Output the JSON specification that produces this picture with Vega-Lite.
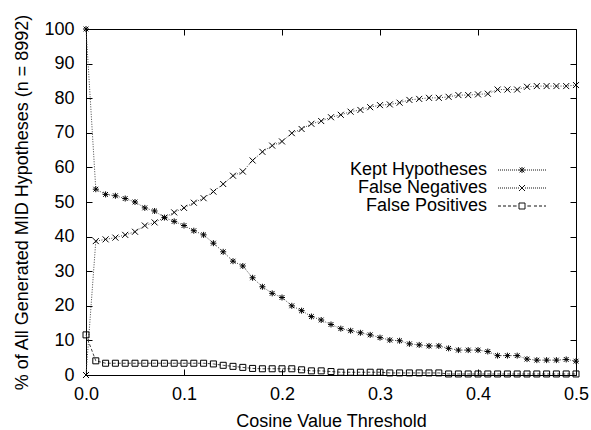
{
  "$schema": "https://vega.github.io/schema/vega-lite/v6.json",
  "width": 490,
  "height": 346,
  "autosize": {"type": "none"},
  "padding": {"left": 86, "top": 29, "right": 15, "bottom": 55},
  "background": "white",
  "config": {
    "view": {"stroke": "black", "strokeWidth": 1},
    "font": "Liberation Sans",
    "axis": {
      "grid": false,
      "domain": false,
      "labelFlush": false,
      "tickColor": "black",
      "tickSize": 6,
      "tickWidth": 1,
      "labelFont": "Liberation Sans",
      "labelFontSize": 18,
      "labelColor": "black",
      "titleFont": "Liberation Sans",
      "titleFontSize": 18,
      "titleFontWeight": "normal",
      "titleColor": "black"
    },
    "legend": {
      "labelFont": "Liberation Sans",
      "labelFontSize": 18,
      "labelColor": "black"
    }
  },
  "data": {
    "values": [
      {"t": 0.00, "Kept Hypotheses": 100, "False Negatives": 0, "False Positives": 11.6},
      {"t": 0.01, "Kept Hypotheses": 53.7, "False Negatives": 38.7, "False Positives": 4.1},
      {"t": 0.02, "Kept Hypotheses": 52.2, "False Negatives": 39.2, "False Positives": 3.4},
      {"t": 0.03, "Kept Hypotheses": 51.8, "False Negatives": 39.7, "False Positives": 3.4},
      {"t": 0.04, "Kept Hypotheses": 51.0, "False Negatives": 40.5, "False Positives": 3.4},
      {"t": 0.05, "Kept Hypotheses": 50.0, "False Negatives": 41.4, "False Positives": 3.4},
      {"t": 0.06, "Kept Hypotheses": 48.3, "False Negatives": 43.2, "False Positives": 3.4},
      {"t": 0.07, "Kept Hypotheses": 47.4, "False Negatives": 44.1, "False Positives": 3.4},
      {"t": 0.08, "Kept Hypotheses": 45.5, "False Negatives": 45.5, "False Positives": 3.4},
      {"t": 0.09, "Kept Hypotheses": 44.4, "False Negatives": 47.0, "False Positives": 3.4},
      {"t": 0.10, "Kept Hypotheses": 43.2, "False Negatives": 48.3, "False Positives": 3.4},
      {"t": 0.11, "Kept Hypotheses": 41.7, "False Negatives": 49.8, "False Positives": 3.4},
      {"t": 0.12, "Kept Hypotheses": 40.5, "False Negatives": 51.1, "False Positives": 3.4},
      {"t": 0.13, "Kept Hypotheses": 38.1, "False Negatives": 53.0, "False Positives": 3.2},
      {"t": 0.14, "Kept Hypotheses": 35.6, "False Negatives": 55.2, "False Positives": 2.8},
      {"t": 0.15, "Kept Hypotheses": 32.9, "False Negatives": 57.6, "False Positives": 2.5},
      {"t": 0.16, "Kept Hypotheses": 31.5, "False Negatives": 58.8, "False Positives": 2.2},
      {"t": 0.17, "Kept Hypotheses": 28.1, "False Negatives": 62.0, "False Positives": 1.9},
      {"t": 0.18, "Kept Hypotheses": 25.5, "False Negatives": 64.5, "False Positives": 1.8},
      {"t": 0.19, "Kept Hypotheses": 23.6, "False Negatives": 66.3, "False Positives": 1.8},
      {"t": 0.20, "Kept Hypotheses": 22.4, "False Negatives": 67.5, "False Positives": 1.8},
      {"t": 0.21, "Kept Hypotheses": 20.0, "False Negatives": 69.9, "False Positives": 1.8},
      {"t": 0.22, "Kept Hypotheses": 18.6, "False Negatives": 71.1, "False Positives": 1.5},
      {"t": 0.23, "Kept Hypotheses": 16.9, "False Negatives": 72.6, "False Positives": 1.2},
      {"t": 0.24, "Kept Hypotheses": 15.9, "False Negatives": 73.4, "False Positives": 1.2},
      {"t": 0.25, "Kept Hypotheses": 14.6, "False Negatives": 74.5, "False Positives": 1.0},
      {"t": 0.26, "Kept Hypotheses": 13.4, "False Negatives": 75.2, "False Positives": 0.8},
      {"t": 0.27, "Kept Hypotheses": 12.8, "False Negatives": 76.1, "False Positives": 0.8},
      {"t": 0.28, "Kept Hypotheses": 12.2, "False Negatives": 76.6, "False Positives": 0.8},
      {"t": 0.29, "Kept Hypotheses": 11.6, "False Negatives": 77.4, "False Positives": 0.8},
      {"t": 0.30, "Kept Hypotheses": 10.8, "False Negatives": 78.0, "False Positives": 0.8},
      {"t": 0.31, "Kept Hypotheses": 10.1, "False Negatives": 78.2, "False Positives": 0.6},
      {"t": 0.32, "Kept Hypotheses": 9.9, "False Negatives": 78.7, "False Positives": 0.6},
      {"t": 0.33, "Kept Hypotheses": 9.0, "False Negatives": 79.5, "False Positives": 0.6},
      {"t": 0.34, "Kept Hypotheses": 8.7, "False Negatives": 79.8, "False Positives": 0.6},
      {"t": 0.35, "Kept Hypotheses": 8.4, "False Negatives": 80.1, "False Positives": 0.6},
      {"t": 0.36, "Kept Hypotheses": 8.4, "False Negatives": 80.1, "False Positives": 0.6},
      {"t": 0.37, "Kept Hypotheses": 7.7, "False Negatives": 80.4, "False Positives": 0.3},
      {"t": 0.38, "Kept Hypotheses": 7.2, "False Negatives": 80.9, "False Positives": 0.3},
      {"t": 0.39, "Kept Hypotheses": 7.2, "False Negatives": 80.9, "False Positives": 0.3},
      {"t": 0.40, "Kept Hypotheses": 7.2, "False Negatives": 81.1, "False Positives": 0.3},
      {"t": 0.41, "Kept Hypotheses": 6.8, "False Negatives": 81.3, "False Positives": 0.3},
      {"t": 0.42, "Kept Hypotheses": 5.6, "False Negatives": 82.5, "False Positives": 0.3},
      {"t": 0.43, "Kept Hypotheses": 5.6, "False Negatives": 82.5, "False Positives": 0.3},
      {"t": 0.44, "Kept Hypotheses": 5.6, "False Negatives": 82.5, "False Positives": 0.3},
      {"t": 0.45, "Kept Hypotheses": 4.6, "False Negatives": 83.3, "False Positives": 0.3},
      {"t": 0.46, "Kept Hypotheses": 4.3, "False Negatives": 83.5, "False Positives": 0.3},
      {"t": 0.47, "Kept Hypotheses": 4.3, "False Negatives": 83.5, "False Positives": 0.3},
      {"t": 0.48, "Kept Hypotheses": 4.3, "False Negatives": 83.5, "False Positives": 0.3},
      {"t": 0.49, "Kept Hypotheses": 4.5, "False Negatives": 83.5, "False Positives": 0.3},
      {"t": 0.50, "Kept Hypotheses": 4.0, "False Negatives": 83.8, "False Positives": 0.3}
    ]
  },
  "transform": [
    {"fold": ["Kept Hypotheses", "False Negatives", "False Positives"], "as": ["series", "v"]}
  ],
  "layer": [
    {
      "transform": [{"filter": "datum.series !== 'False Positives'"}],
      "mark": {"type": "line", "stroke": "#444", "strokeWidth": 1, "strokeDash": [1, 1.5]},
      "encoding": {
        "x": {
          "field": "t", "type": "quantitative",
          "scale": {"domain": [0, 0.5], "nice": false, "zero": false},
          "axis": {
            "orient": "bottom",
            "values": [0, 0.1, 0.2, 0.3, 0.4, 0.5],
            "format": ".1f",
            "ticks": false,
            "labelPadding": 10,
            "title": "Cosine Value Threshold",
            "titlePadding": 9
          }
        },
        "y": {
          "field": "v", "type": "quantitative",
          "scale": {"domain": [0, 100], "nice": false},
          "axis": {
            "orient": "left",
            "values": [0, 10, 20, 30, 40, 50, 60, 70, 80, 90, 100],
            "format": "d",
            "ticks": false,
            "labelPadding": 12,
            "title": "% of All Generated MID Hypotheses (n = 8992)",
            "titlePadding": 12
          }
        },
        "detail": {"field": "series"}
      }
    },
    {
      "transform": [{"filter": "datum.series === 'False Positives'"}],
      "mark": {"type": "line", "stroke": "#444", "strokeWidth": 1, "strokeDash": [3, 2]},
      "encoding": {
        "x": {
          "field": "t", "type": "quantitative",
          "axis": {"orient": "top", "offset": -346, "values": [0, 0.1, 0.2, 0.3, 0.4, 0.5], "labels": false, "title": null}
        },
        "y": {
          "field": "v", "type": "quantitative",
          "axis": {"orient": "right", "offset": -490, "values": [0, 10, 20, 30, 40, 50, 60, 70, 80, 90, 100], "labels": false, "title": null}
        }
      }
    },
    {
      "mark": {"type": "point", "filled": false, "stroke": "black", "strokeWidth": 1, "size": 36},
      "encoding": {
        "x": {
          "field": "t", "type": "quantitative",
          "axis": {"orient": "bottom", "offset": -346, "values": [0, 0.1, 0.2, 0.3, 0.4, 0.5], "labels": false, "title": null}
        },
        "y": {
          "field": "v", "type": "quantitative",
          "axis": {"orient": "left", "offset": -490, "values": [0, 10, 20, 30, 40, 50, 60, 70, 80, 90, 100], "labels": false, "title": null}
        },
        "shape": {
          "field": "series", "type": "nominal",
          "scale": {
            "domain": ["Kept Hypotheses", "False Negatives", "False Positives"],
            "range": [
              "M-1,0L1,0M0,-1L0,1M-0.8,-0.8L0.8,0.8M-0.8,0.8L0.8,-0.8",
              "M-1,-1L1,1M-1,1L1,-1",
              "square"
            ]
          },
          "legend": null
        },
        "opacity": {
          "field": "series", "type": "ordinal",
          "sort": ["Kept Hypotheses", "False Negatives", "False Positives"],
          "scale": {"range": [1, 1, 1]},
          "legend": {
            "title": null,
            "orient": "none",
            "legendX": 427,
            "legendY": 132,
            "padding": 0,
            "labelAlign": "right",
            "labelOffset": -44,
            "rowPadding": -4,
            "symbolSize": 36,
            "symbolStrokeColor": "#111",
            "symbolFillColor": "transparent",
            "symbolStrokeWidth": 1,
            "symbolType": {"expr": "datum.value === 'False Positives' ? 'M-8,0h1M-6.33,0h1M-4.67,0h1M-3,0h1.2M1.8,0h1.2M4,0h1M5.67,0h1M7.33,0h0.67M-1,-1L1,-1L1,1L-1,1Z' : 'M-8,0h0.33M-7.33,0h0.33M-6.67,0h0.33M-6,0h0.33M-5.33,0h0.33M-4.67,0h0.33M-4,0h0.33M-3.33,0h0.33M-2.67,0h0.33M-2,0h0.33M-1.33,0h0.33M1,0h0.33M1.67,0h0.33M2.33,0h0.33M3,0h0.33M3.67,0h0.33M4.33,0h0.33M5,0h0.33M5.67,0h0.33M6.33,0h0.33M7,0h0.33M7.67,0h0.33' + (datum.value === 'Kept Hypotheses' ? 'M-1,0L1,0M0,-1L0,1M-0.8,-0.8L0.8,0.8M-0.8,0.8L0.8,-0.8' : 'M-1,-1L1,1M-1,1L1,-1')"}
          }
        }
      }
    }
  ],
  "resolve": {"axis": {"x": "independent", "y": "independent"}}
}
